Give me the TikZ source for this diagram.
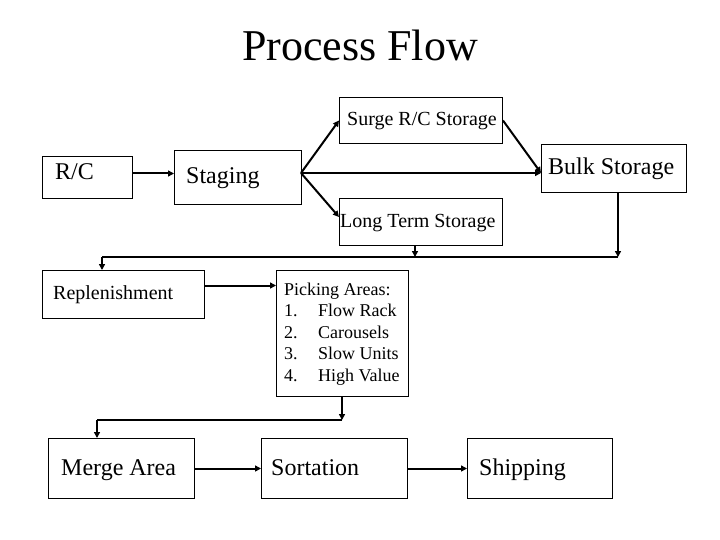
\documentclass[tikz,border=0pt]{standalone}
\usepackage{fontspec}
\setmainfont{Liberation Serif}
\usetikzlibrary{arrows.meta,calc}
\begin{document}
\begin{tikzpicture}[x=1pt,y=-1pt,
  box/.style={draw,line width=1pt,anchor=north west,inner sep=0pt},
  txt/.style={anchor=base west,inner sep=0pt},
  big/.style={font=\fontsize{24}{28}\selectfont},
  mid/.style={font=\fontsize{20}{24}\selectfont},
  small/.style={font=\fontsize{18}{21.5}\selectfont},
  arr/.style={line width=2pt,-{Triangle[length=6pt,width=6pt]}},
  conn/.style={line width=1.3pt}]
\useasboundingbox[fill=white] (0,0) rectangle (720,540);

% title
\node[anchor=base,inner sep=0pt,font=\fontsize{44}{50}\selectfont] (title) at (360,61) {Process Flow};

% boxes
\node[box,minimum width=90pt,minimum height=42pt] (rc) at (42,156) {};
\node[box,minimum width=127pt,minimum height=54pt] (staging) at (174,150) {};
\node[box,minimum width=163pt,minimum height=46pt] (surge) at (339,97) {};
\node[box,minimum width=145pt,minimum height=48pt] (bulk) at (541,144) {};
\node[box,minimum width=163pt,minimum height=47pt] (longterm) at (339,198) {};
\node[box,minimum width=162pt,minimum height=48pt] (repl) at (42,270) {};
\node[box,minimum width=132pt,minimum height=126pt] (picking) at (276,270) {};
\node[box,minimum width=146pt,minimum height=60pt] (merge) at (48,438) {};
\node[box,minimum width=146pt,minimum height=60pt] (sort) at (261,438) {};
\node[box,minimum width=145pt,minimum height=60pt] (ship) at (467,438) {};

% texts
\node[txt,big] (rc-t) at (55,180) {R/C};
\node[txt,big] (staging-t) at (186,184) {Staging};
\node[txt,mid] (surge-t) at (347,126) {Surge R/C Storage};
\node[txt,big] (bulk-t) at (548,175) {Bulk Storage};
\node[txt,mid] (longterm-t) at (340,227) {Long Term Storage};
\node[txt,mid] (repl-t) at (53,299) {Replenishment};
\node[anchor=west,inner sep=0pt,small,align=left] (picking-t) at (284,334)
  {Picking Areas:\\
   \makebox[34pt][l]{1.}Flow Rack\\
   \makebox[34pt][l]{2.}Carousels\\
   \makebox[34pt][l]{3.}Slow Units\\
   \makebox[34pt][l]{4.}High Value};
\node[txt,big] (merge-t) at (61,475) {Merge Area};
\node[txt,big] (sort-t) at (271,475) {Sortation};
\node[txt,big] (ship-t) at (479,475) {Shipping};

% connectors
\coordinate (fan) at (301,173);
\coordinate (bus1) at (618,257);
\coordinate (bus2) at (102,257);
\coordinate (bus3) at (342,420);
\coordinate (bus4) at (97,420);

\draw[arr] ([yshift=4pt]rc.east) -- ([yshift=4pt]rc.east -| staging.west);
\draw[arr] (fan) -- (surge.west);
\draw[arr] (fan) -- ([yshift=5pt]longterm.west);
\draw[arr] (fan) -- (fan -| bulk.west);
\draw[arr] (surge.east) -- (fan -| bulk.west);
\draw[arr] (bus1 |- bulk.south) -- (bus1);
\draw[arr] ([xshift=-6pt]longterm.south) -- ([xshift=-6pt]longterm.south |- bus1);
\draw[conn] (bus1) -- (bus2);
\draw[arr] (bus2) -- (bus2 |- repl.north);
\draw[arr] ([yshift=9pt]repl.east) -- ([yshift=9pt]repl.east -| picking.west);
\draw[arr] (bus3 |- picking.south) -- (bus3);
\draw[conn] (bus3) -- (bus4);
\draw[arr] (bus4) -- (bus4 |- merge.north);
\draw[arr] (merge.east) -- (sort.west);
\draw[arr] (sort.east) -- (ship.west);
\end{tikzpicture}
\end{document}
